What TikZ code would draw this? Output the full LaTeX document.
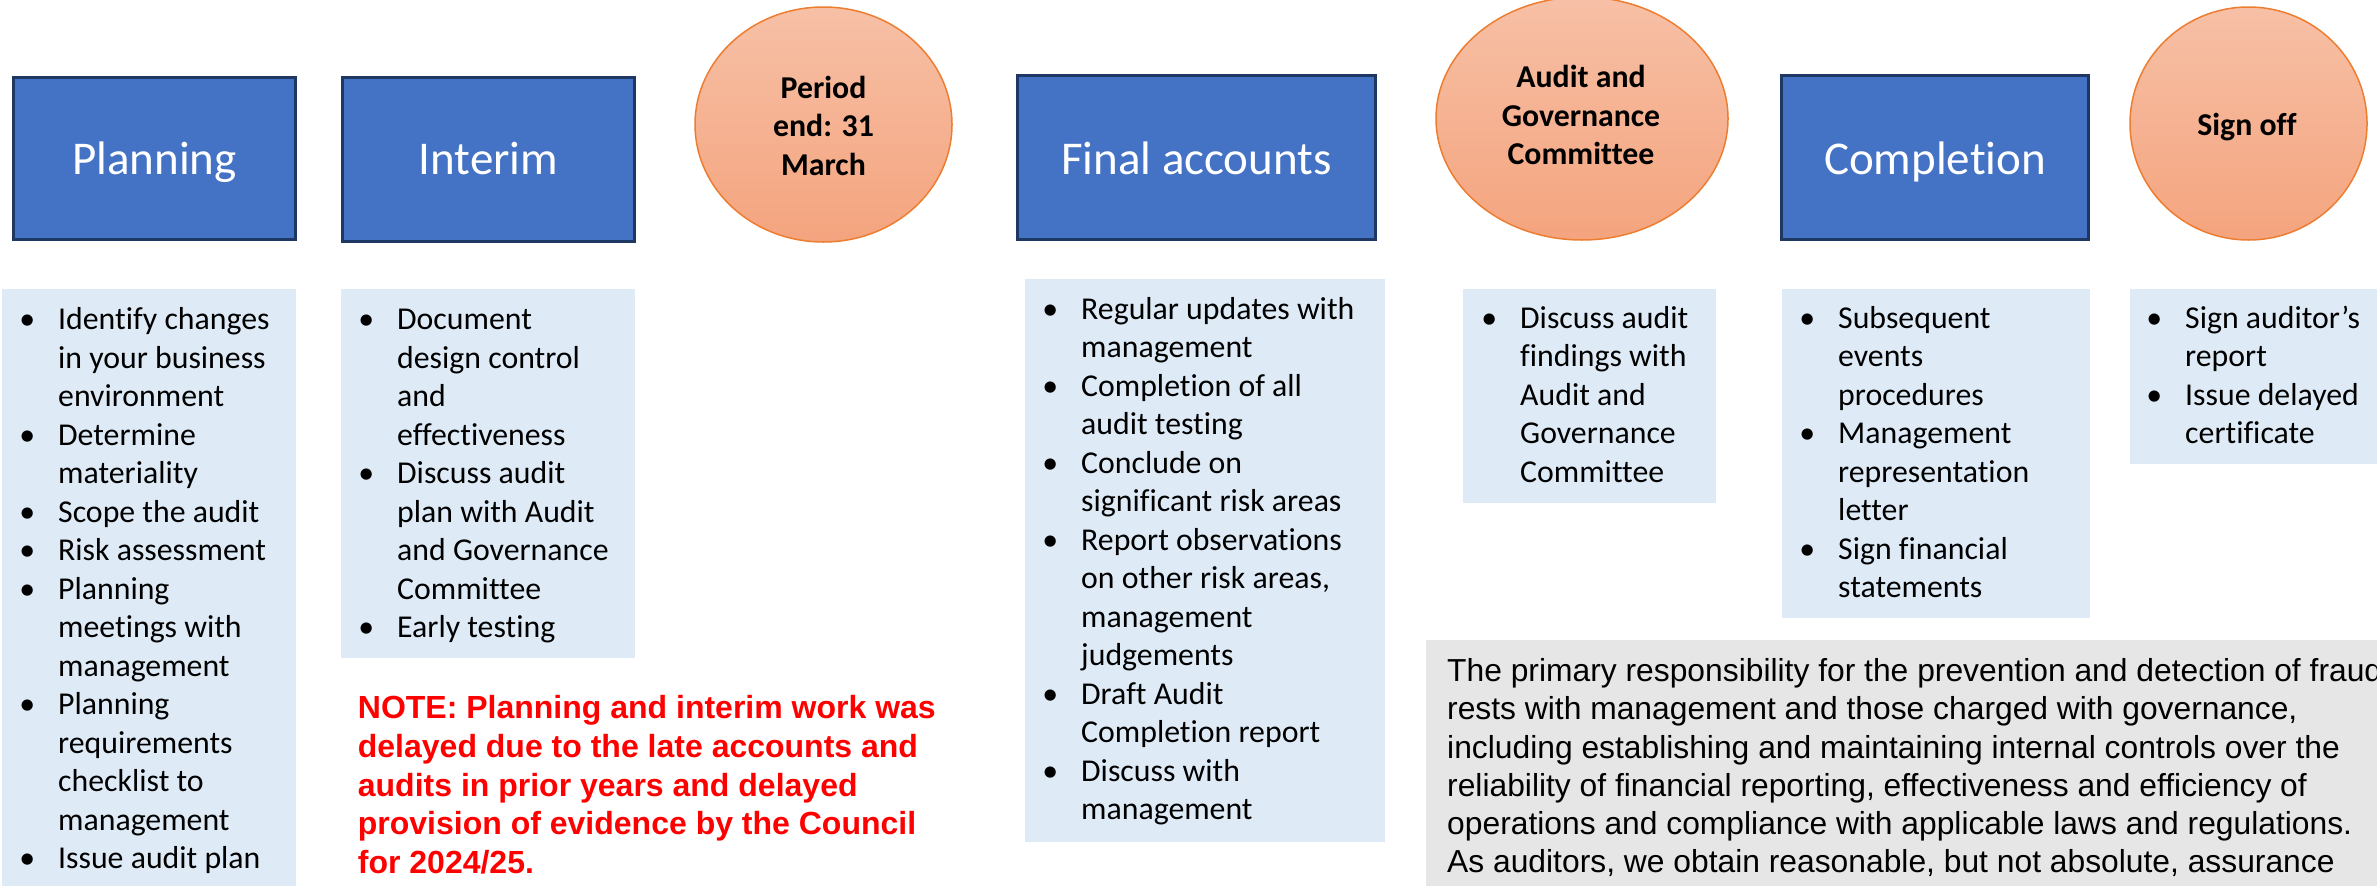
\documentclass[tikz,border=0pt]{standalone}
\usepackage{fontspec}
\setmainfont{Carlito}[Ligatures=NoCommon]
\newfontfamily\arialfont{Liberation Sans}
\usetikzlibrary{shapes.geometric}

\definecolor{boxblue}{HTML}{4472C4}
\definecolor{boxedge}{HTML}{1F3763}
\definecolor{ovaltop}{HTML}{F7C0A6}
\definecolor{ovalbot}{HTML}{F4A47E}
\definecolor{ovaledge}{HTML}{ED7D31}
\definecolor{listfill}{HTML}{DEEBF7}
\definecolor{notegrey}{HTML}{E7E6E6}
\definecolor{notered}{HTML}{FF0000}

% hanging bullet: dot centred 31pt left of the item text
\newcommand\bul{\llap{\makebox[62pt]{\textbullet}}}

\begin{document}
% multi-line texts are placed by the baseline of their last line
\begin{tikzpicture}[x=1pt,y=-1pt,
  stagebox/.style={rectangle, draw=boxedge, line width=3pt, fill=boxblue, inner sep=0pt},
  stagetext/.style={text=white, font=\fontsize{47}{56}\selectfont, anchor=base, inner sep=0pt},
  milestone/.style={ellipse, draw=ovaledge, line width=1.5pt, top color=ovaltop, bottom color=ovalbot, inner sep=0pt},
  milestonetext/.style={font=\bfseries\fontsize{31.8}{38.3}\selectfont, align=center, anchor=base, inner sep=0pt},
  listbox/.style={rectangle, fill=listfill, inner sep=0pt},
  listtext/.style={font=\fontsize{31.8}{38.5}\selectfont, align=left, anchor=base west, inner sep=0pt},
]
\useasboundingbox (0,0) rectangle (2377,886);
\clip (0,0) rectangle (2377,886);

% ---- stage boxes ----
\node[stagebox, minimum width=282pt, minimum height=162pt] (planning) at (154.5,158.5) {};
\node[stagetext] (planningtxt) at (154.5,174) {Planning};
\node[stagebox, minimum width=292pt, minimum height=164pt] (interim) at (488.5,159.5) {};
\node[stagetext] (interimtxt) at (488.5,174) {Interim};
\node[stagebox, minimum width=358pt, minimum height=164pt] (final) at (1196.5,157.5) {};
\node[stagetext] (finaltxt) at (1196.5,174) {Final accounts};
\node[stagebox, minimum width=307pt, minimum height=164pt] (completion) at (1935,157.5) {};
\node[stagetext] (completiontxt) at (1935,174) {Completion};

% ---- milestones ----
\node[milestone, minimum width=257pt, minimum height=235pt] (period) at (823.5,124.5) {};
\node[milestonetext] (periodtxt) at (823.5,175) {Period\\end: 31\\March};
\node[milestone, minimum width=292pt, minimum height=243pt] (agc) at (1582,118.5) {};
\node[milestonetext] (agctxt) at (1581,164.5) {Audit and\\Governance\\Committee};
\node[milestone, minimum width=237pt, minimum height=233pt] (signoff) at (2248.5,123.5) {};
\node[milestonetext] (signofftxt) at (2247,135) {Sign off};

% ---- activity lists ----
\node[listbox, minimum width=294pt, minimum height=611pt] (planlist) at (149,594.5) {};
\node[listtext] (planlisttxt) at (58,868.5) {\bul Identify changes\\in your business\\environment\\
  \bul Determine\\materiality\\\bul Scope the audit\\\bul Risk assessment\\
  \bul Planning\\meetings with\\management\\\bul Planning\\requirements\\checklist to\\management\\
  \bul Issue audit plan};

\node[listbox, minimum width=294pt, minimum height=369pt] (interimlist) at (488,473.5) {};
\node[listtext] (interimlisttxt) at (397,637.5) {\bul Document\\design control\\and\\effectiveness\\
  \bul Discuss audit\\plan with Audit\\and Governance\\Committee\\\bul Early testing};

\node[listbox, minimum width=360pt, minimum height=563pt] (finallist) at (1205,560.5) {};
\node[listtext] (finallisttxt) at (1081,819.8) {\bul Regular updates with\\management\\
  \bul Completion of all\\audit testing\\\bul Conclude on\\significant risk areas\\
  \bul Report observations\\on other risk areas,\\management\\judgements\\
  \bul Draft Audit\\Completion report\\\bul Discuss with\\management};

\node[listbox, minimum width=253pt, minimum height=214pt] (agclist) at (1589.5,396) {};
\node[listtext] (agclisttxt) at (1520,482.3) {\bul Discuss audit\\findings with\\Audit and\\Governance\\Committee};

\node[listbox, minimum width=308pt, minimum height=329pt] (completionlist) at (1936,453.5) {};
\node[listtext] (completionlisttxt) at (1838,597.8) {\bul Subsequent\\events\\procedures\\
  \bul Management\\representation\\letter\\\bul Sign financial\\statements};

\node[listbox, minimum width=270pt, minimum height=175pt] (signofflist) at (2265,376.5) {};
\node[listtext] (signofflisttxt) at (2185,443.8) {\bul Sign auditor’s\\report\\\bul Issue delayed\\certificate};

% ---- notes ----
\node[anchor=base west, inner sep=0pt, align=left, text=notered,
      font=\arialfont\bfseries\fontsize{32}{38.7}\selectfont] (delaynote) at (357.7,873.5)
  {NOTE: Planning and interim work was\\delayed due to the late accounts and\\audits in prior years and delayed\\provision of evidence by the Council\\for 2024/25.};

\node[rectangle, fill=notegrey, inner sep=0pt, minimum width=974pt, minimum height=260pt] (fraudbox) at (1913,770) {};
\node[anchor=base west, inner sep=0pt, align=left,
      font=\arialfont\fontsize{31.8}{38.2}\selectfont] (fraudtxt) at (1447,872.7)
  {The primary responsibility for the prevention and detection of fraud\\
   rests with management and those charged with governance,\\
   including establishing and maintaining internal controls over the\\
   reliability of financial reporting, effectiveness and efficiency of\\
   operations and compliance with applicable laws and regulations.\\
   As auditors, we obtain reasonable, but not absolute, assurance};
\end{tikzpicture}
\end{document}
